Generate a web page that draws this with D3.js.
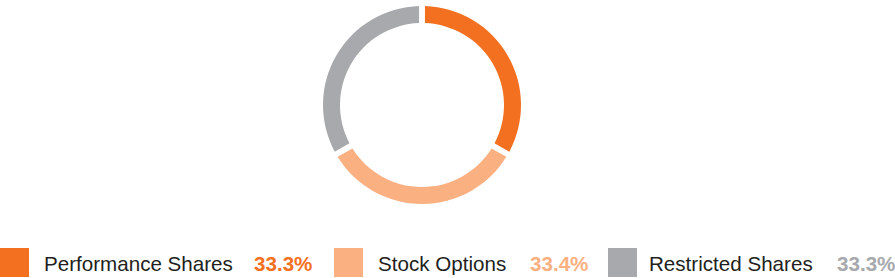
<!DOCTYPE html>
<html>
<head>
<meta charset="utf-8">
<script src="https://cdn.jsdelivr.net/npm/d3@7"></script>
<style>
  html, body { margin: 0; padding: 0; background: #fff; }
  svg { display: block; }
</style>
</head>
<body>
<script>
var width = 895,
    height = 278;

// chart data
var categories = ["Performance Shares", "Stock Options", "Restricted Shares"];
var shares = [33.3, 33.4, 33.3];
var labels = ["33.3%", "33.4%", "33.3%"];
var colors = ["#f37021", "#fbb082", "#a7a9ac"];

const svg = d3.select("body")
    .append("svg")
    .attr("width", width)
    .attr("height", height);

// donut
var cx = 422, cy = 105,
    outer = 99, inner = 82;

var pie = d3.pie()
    .sort(null)
    .value(function (d) { return d; });

var arc = d3.arc()
    .innerRadius(inner)
    .outerRadius(outer)
    .padAngle(0.046);

svg.append("g")
    .attr("transform", "translate(" + cx + "," + cy + ")")
    .selectAll("path")
    .data(pie(shares))
    .enter().append("path")
    .attr("d", arc)
    .style("fill", function (d, i) { return colors[i]; });

// legend
var swatchX = [0, 334, 608],
    textX = [44, 378, 649],
    pctX = [254, 530, 837];

var legend = svg.append("g")
    .attr("class", "legend");

var items = legend.selectAll("g")
    .data(categories)
    .enter().append("g");

items.append("rect")
    .attr("x", function (d, i) { return swatchX[i]; })
    .attr("y", 248)
    .attr("width", 29)
    .attr("height", 29)
    .style("fill", function (d, i) { return colors[i]; });

items.append("text")
    .attr("x", function (d, i) { return textX[i]; })
    .attr("y", 270.5)
    .style("font-family", "'Liberation Sans', Arial, sans-serif")
    .style("font-size", "20.6px")
    .style("fill", "#231f20")
    .text(function (d) { return d; });

items.append("text")
    .attr("x", function (d, i) { return pctX[i]; })
    .attr("y", 270.5)
    .style("font-family", "'Liberation Sans', Arial, sans-serif")
    .style("font-size", "20.6px")
    .style("font-weight", "bold")
    .style("fill", function (d, i) { return colors[i]; })
    .text(function (d, i) { return labels[i]; });
</script>
</body>
</html>
